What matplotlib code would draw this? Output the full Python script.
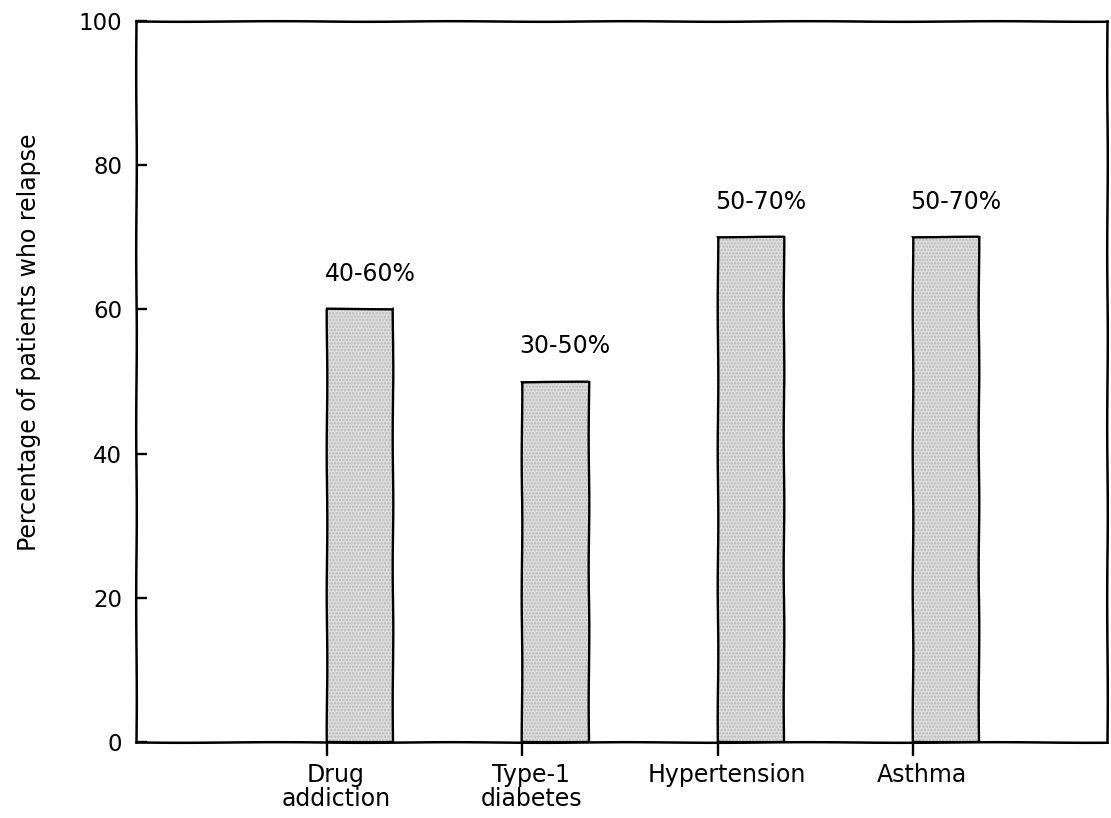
import matplotlib
matplotlib.use("Agg")
import matplotlib.pyplot as plt
from matplotlib.transforms import ScaledTranslation

# data
categories = ["Drug\naddiction", "Type-1\ndiabetes", "Hypertension", "Asthma"]
relapse_top = [60, 50, 70, 70]
range_labels = ["40-60%", "30-50%", "50-70%", "50-70%"]
y_ticks = [0, 20, 40, 60, 80, 100]

plt.rcParams['font.family'] = ['DejaVu Sans']
plt.rcParams['hatch.linewidth'] = 1.2

fig = plt.figure(figsize=(11.11, 8.18), dpi=100)
ax = fig.add_axes([136 / 1111, 1 - 742 / 818, (1107 - 136) / 1111, (742 - 21) / 818])

x = list(range(len(categories)))
width = 0.34

# speckled fill first, then the black outline on top
fill = ax.bar(x, relapse_top, width=width, align='edge', color='#e0e0e0',
              edgecolor='#b8b8b8', linewidth=0, hatch='.....', zorder=2)
outline = ax.bar(x, relapse_top, width=width, align='edge', fill=False,
                 edgecolor='black', linewidth=1.7, zorder=3)
for p in outline:
    p.set_sketch_params(scale=0.3, length=150, randomness=2)

for xi, top, lab in zip(x, relapse_top, range_labels):
    ax.annotate(lab, (xi + width / 2, top), xytext=(7, 17), textcoords='offset points',
                ha='center', va='bottom', fontsize=17)

ax.set_xlim(-0.978, 3.994)
ax.set_ylim(0, 100)

ax.set_yticks(y_ticks)
ax.set_yticklabels([str(t) for t in y_ticks], fontsize=16.5)
ax.tick_params(axis='y', direction='in', length=8, width=1.7, pad=10)

ax.set_xticks(x)
ax.set_xticklabels(categories, fontsize=17, linespacing=1.0)
ax.tick_params(axis='x', direction='out', length=10, width=1.7, pad=5)
shift = ScaledTranslation(9 / 100, 0, fig.dpi_scale_trans)
for t in ax.get_xticklabels():
    t.set_transform(t.get_transform() + shift)

for s in ax.spines.values():
    s.set_linewidth(1.8)
    s.set_sketch_params(scale=0.3, length=200, randomness=2)

ax.set_ylabel("Percentage of patients who relapse", fontsize=17)
ax.yaxis.set_label_coords(-0.098, 0.555)

fig.savefig("out.png", dpi=100, facecolor='white')
